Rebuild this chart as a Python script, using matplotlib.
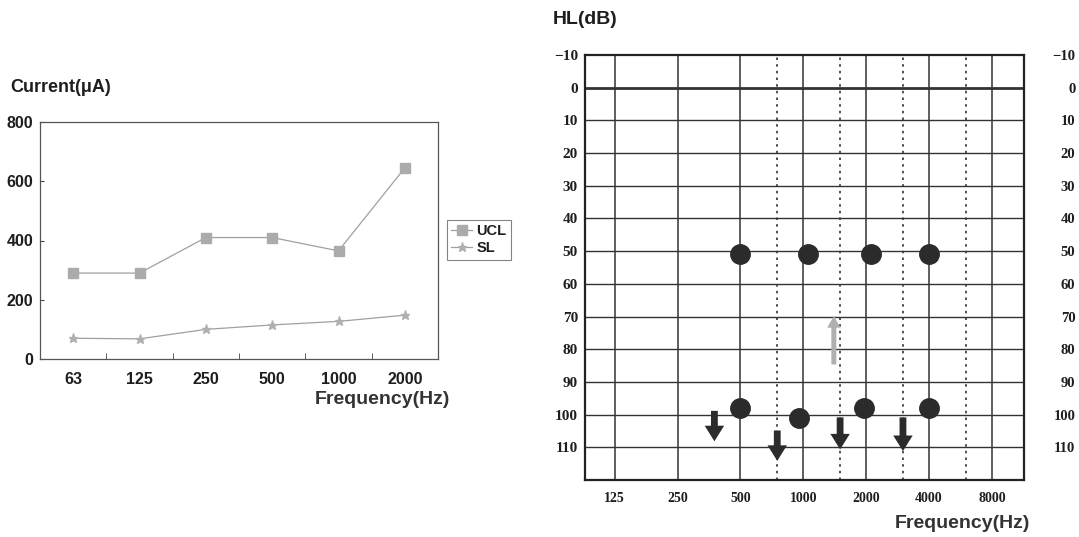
import matplotlib
matplotlib.use("Agg")
import matplotlib.pyplot as plt
from matplotlib.patches import FancyArrowPatch
from matplotlib.ticker import NullLocator

# left chart: stimulation current per frequency
freq_labels = ['63', '125', '250', '500', '1000', '2000']
ucl = [290, 290, 410, 410, 365, 645]
sl = [70, 68, 100, 115, 127, 148]

# right chart: audiogram
hl_ticks = [-10, 0, 10, 20, 30, 40, 50, 60, 70, 80, 90, 100, 110]
octave_freqs = [125, 250, 500, 1000, 2000, 4000, 8000]
half_octave_freqs = [750, 1500, 3000, 6000]
upper_freqs = [500, 1050, 2100, 4000]
upper_hl = [51, 51, 51, 51]
lower_freqs = [500, 950, 1950, 4000]
lower_hl = [98, 101, 98, 98]
down_freqs = [375, 750, 1500, 3000]
down_start = [98, 104, 100, 100]
down_end = [109, 115, 111.5, 112]
up_freq = 1400
up_start = 85.5
up_end = 69

SANS = ['Liberation Sans', 'DejaVu Sans']
SERIF = ['Liberation Serif', 'DejaVu Serif']
INK = '#1e1e1e'

fig = plt.figure(figsize=(10.79, 5.37), dpi=100)

# ---------- left chart ----------
ax1 = fig.add_axes([40/1079, 1-359/537, 398/1079, 237/537])
x = list(range(len(freq_labels)))
ax1.plot(x, ucl, color='#a0a0a0', lw=0.9, marker='s', ms=6.5,
         mfc='#ababab', mec='#ababab', label='UCL')
ax1.plot(x, sl, color='#a0a0a0', lw=0.9, marker='*', ms=6.5,
         mfc='#b0b0b0', mec='#b0b0b0', label='SL')
ax1.set_xlim(-0.5, 5.5)
ax1.set_ylim(0, 800)
ax1.set_xticks(x)
ax1.set_xticklabels(freq_labels)
ax1.set_xticks([i + 0.5 for i in x[:-1]], minor=True)
ax1.set_yticks([0, 200, 400, 600, 800])
ax1.tick_params(axis='x', which='major', length=0, pad=9)
ax1.tick_params(axis='x', which='minor', direction='in', length=4, color='#444')
ax1.tick_params(axis='y', direction='in', length=3, color='#444', pad=5)
for lab in ax1.get_xticklabels() + ax1.get_yticklabels():
    lab.set_fontfamily(SANS)
    lab.set_fontweight('bold')
    lab.set_fontsize(11.5)
    lab.set_color(INK)
for sp in ax1.spines.values():
    sp.set_color('#555')
    sp.set_linewidth(0.9)

fig.text(10/1079, 1-88/537, 'Current(μA)', family=SANS, weight='bold',
         fontsize=13, color=INK, va='center', ha='left')
fig.text(450/1079, 1-400/537, 'Frequency(Hz)', family=SANS, weight='bold',
         fontsize=14, color='#333', va='center', ha='right')

leg = fig.legend(loc='upper left', bbox_to_anchor=(447/1079, 1-220/537),
                 prop={'family': SANS, 'weight': 'bold', 'size': 10.5},
                 frameon=True, fancybox=False, handlelength=1.4,
                 handletextpad=0.3, borderpad=0.3, labelspacing=0.2,
                 borderaxespad=0)
leg.get_frame().set_edgecolor('#666')
leg.get_frame().set_linewidth(0.8)
for t in leg.get_texts():
    t.set_color(INK)

# ---------- right chart (audiogram) ----------
ax2 = fig.add_axes([585/1079, 1-480/537, 439/1079, 425/537])
ax2.set_xscale('log')
ax2.set_xlim(90, 11400)
ax2.set_ylim(120, -10)

for h in hl_ticks[1:]:
    ax2.axhline(h, color='#333', lw=2.0 if h == 0 else 1.0, zorder=1)
for f in octave_freqs:
    ax2.axvline(f, color='#333', lw=1.1, zorder=1)
for f in half_octave_freqs:
    ax2.axvline(f, color='#333', lw=1.2, ls=(0, (1.5, 2.5)), zorder=1)

ax2.plot(upper_freqs, upper_hl, 'o', ms=14, color='#2b2b2b', zorder=3)
ax2.plot(lower_freqs, lower_hl, 'o', ms=14, color='#2b2b2b', zorder=3)

for f, s, e in zip(down_freqs, down_start, down_end):
    ax2.add_patch(FancyArrowPatch((f, s), (f, e), arrowstyle='simple,head_width=1.0,head_length=0.8,tail_width=0.35',
                                  mutation_scale=14, color='#2b2b2b', lw=0, zorder=3))
ax2.add_patch(FancyArrowPatch((up_freq, up_start), (up_freq, up_end),
                              arrowstyle='simple,head_width=0.8,head_length=0.7,tail_width=0.3',
                              mutation_scale=12, color='#b0b0b0', lw=0, zorder=3))

ax2.xaxis.set_minor_locator(NullLocator())
ax2.set_xticks(octave_freqs)
ax2.set_xticklabels([str(f) for f in octave_freqs])
ax2.set_yticks(hl_ticks)
ax2.set_yticklabels(['\u221210' if h < 0 else str(h) for h in hl_ticks])
ax2.tick_params(axis='both', length=0)
ax2.tick_params(axis='x', pad=9)
ax2.tick_params(axis='y', pad=5)
for lab in ax2.get_xticklabels() + ax2.get_yticklabels():
    lab.set_fontfamily(SERIF)
    lab.set_fontweight('bold')
    lab.set_fontsize(11)
    lab.set_color(INK)
for lab in ax2.get_xticklabels():
    lab.set_fontsize(10)
for sp in ax2.spines.values():
    sp.set_color('#222')
    sp.set_linewidth(1.6)

ax2r = ax2.twinx()
ax2r.set_ylim(120, -10)
ax2r.set_yticks(hl_ticks)
ax2r.set_yticklabels(['\u221210' if h < 0 else str(h) for h in hl_ticks])
ax2r.tick_params(axis='y', length=0, pad=37)
for lab in ax2r.get_yticklabels():
    lab.set_fontfamily(SERIF)
    lab.set_fontweight('bold')
    lab.set_fontsize(10.5)
    lab.set_color(INK)
    lab.set_horizontalalignment('right')
for sp in ax2r.spines.values():
    sp.set_visible(False)

fig.text(553/1079, 1-20/537, 'HL(dB)', family=SANS, weight='bold',
         fontsize=14, color=INK, va='center', ha='left')
fig.text(1030/1079, 1-524/537, 'Frequency(Hz)', family=SANS, weight='bold',
         fontsize=14, color='#333', va='center', ha='right')

fig.savefig('out.png', dpi=100, facecolor='white')
